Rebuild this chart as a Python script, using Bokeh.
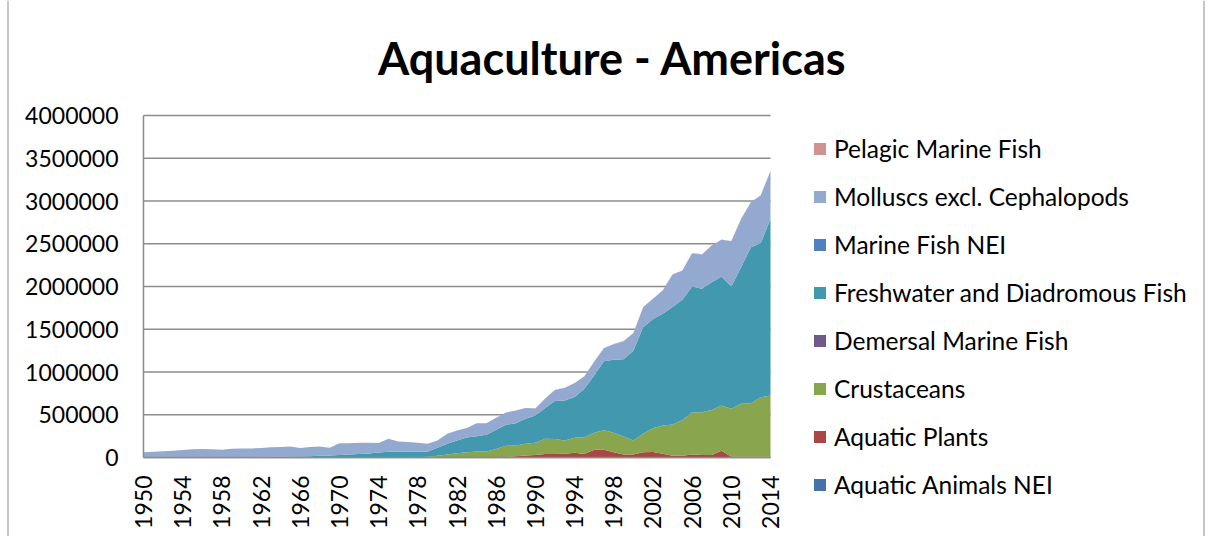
import math
from bokeh.plotting import figure
from bokeh.models import (ColumnDataSource, Range1d, FixedTicker, BasicTickFormatter,
                          Legend, LegendItem, Label, Span)
from bokeh.embed import file_html
from bokeh.resources import INLINE

years = list(range(1950, 2015))

aquatic_animals_nei = [0] * 65

aquatic_plants = ([0] * 37 +
    [5000, 15000, 22000, 30000, 42000, 40000, 43000, 55000, 40000, 92000,
     92000, 60000, 35000, 35000, 60000, 65000, 43000, 20000, 20000, 35000,
     30000, 30000, 80000, 10000, 8000, 8000, 8000, 8000])

crustaceans = ([0] * 28 +
    [3000, 10000, 20000, 35000, 50000, 62000, 70000, 70000, 100000, 132000,
     125000, 138000, 142000, 178000, 175000, 157000, 175000, 198000, 198000, 228000,
     230000, 211000, 165000, 217000, 278000, 331000, 366000, 420000, 495000, 500000,
     527000, 528000, 560000, 620000, 627000, 697000, 717000])

demersal_marine_fish = [0] * 65

freshwater_diadromous = ([0] * 9 +
    [3000, 5000, 7000, 8000, 9000, 10000, 12000, 12000, 16000, 20000,
     23000, 30000, 35000, 40000, 47000, 58000, 66000, 70000, 70000, 63000,
     56000, 93000, 125000, 150000, 173000, 180000, 196000, 224000, 246000, 262000,
     293000, 320000, 358000, 445000, 468000, 477000, 567000, 670000, 805000, 853000,
     904000, 1050000, 1247000, 1277000, 1306000, 1374000, 1404000, 1470000, 1443000, 1493000,
     1509000, 1430000, 1598000, 1825000, 1802000, 2065000])

marine_fish_nei = [0] * 65

molluscs = [62000, 68000, 74000, 80000, 88000, 97000, 100000, 96000, 90000, 99000,
            99000, 99000, 104000, 111000, 114000, 116000, 98000, 108000, 109000, 90000,
            138000, 133000, 132000, 125000, 112000, 154000, 117000, 110000, 106000, 94000,
            87000, 117000, 116000, 110000, 150000, 134000, 141000, 144000, 148000, 127000,
            82000, 112000, 130000, 148000, 163000, 145000, 160000, 155000, 182000, 210000,
            204000, 234000, 236000, 273000, 380000, 342000, 390000, 401000, 430000, 429000,
            530000, 564000, 526000, 557000, 560000]

pelagic_marine_fish = ([0] * 40 +
    [1000, 1000, 1000, 1000, 1000, 1500, 1500, 1500, 2000, 2000,
     2000, 2000, 2000, 2000, 2500, 2500, 2500, 2500, 3000, 3000,
     3000, 3000, 3000, 3000, 3000])

series_names = ["Aquatic Animals NEI", "Aquatic Plants", "Crustaceans", "Demersal Marine Fish",
                "Freshwater and Diadromous Fish", "Marine Fish NEI",
                "Molluscs excl. Cephalopods", "Pelagic Marine Fish"]
series_colors = ["#4572A7", "#AA4643", "#89A54E", "#71588F", "#4198AF", "#4F81BD",
                 "#93A9CF", "#D19392"]
chart_title = "Aquaculture - Americas"
x_ticks = list(range(1950, 2015, 4))
y_ticks = list(range(0, 4000001, 500000))
x_lo, x_hi = 1950, 2014
y_lo, y_hi = 0, 4000000

keys = ["s0", "s1", "s2", "s3", "s4", "s5", "s6", "s7"]
data = dict(year=years)
for k, v in zip(keys, [aquatic_animals_nei, aquatic_plants, crustaceans, demersal_marine_fish,
                       freshwater_diadromous, marine_fish_nei, molluscs, pelagic_marine_fish]):
    data[k] = v
source = ColumnDataSource(data)

FONT = "Lato"
GRID = "#8C8C8C"

# canvas layout (pixels): the frame fills the whole canvas; the plot area
# occupies [PL, PR] x [PT, PB] inside it.
W, H = 1206, 536
PL, PR, PT, PB = 143, 770, 115, 457
sx = (PR - PL) / (x_hi - x_lo)
sy = (PB - PT) / (y_hi - y_lo)
x_range = Range1d(x_lo - PL / sx, x_hi + (W - PR) / sx)
y_range = Range1d(y_lo - (H - PB) / sy, y_hi + PT / sy)

p = figure(width=W, height=H, output_backend="svg", toolbar_location=None,
           x_range=x_range, y_range=y_range,
           min_border_left=0, min_border_right=0, min_border_top=0, min_border_bottom=0)
p.outline_line_color = None
p.background_fill_color = "white"
p.border_fill_color = "white"
p.xgrid.grid_line_color = None
p.ygrid.grid_line_color = None

# horizontal gridlines limited to the plot area
p.segment(x0=[x_lo] * len(y_ticks), y0=y_ticks, x1=[x_hi] * len(y_ticks), y1=y_ticks,
          line_color=GRID, line_width=1.5)

renderers = p.varea_stack(stackers=keys, x="year", color=series_colors, source=source)

for ax in (p.xaxis[0], p.yaxis[0]):
    ax.axis_line_color = GRID
    ax.axis_line_width = 1.5
    ax.major_tick_line_color = None
    ax.minor_tick_line_color = None
    ax.major_tick_out = 0
    ax.major_tick_in = 0
    ax.major_label_text_font = FONT
    ax.major_label_text_font_size = "23px"
    ax.major_label_text_color = "#000000"

p.yaxis.fixed_location = x_lo
p.yaxis.bounds = (y_lo, y_hi)
p.yaxis.ticker = FixedTicker(ticks=y_ticks)
p.yaxis.formatter = BasicTickFormatter(use_scientific=False)
p.yaxis.major_label_standoff = 25

p.xaxis.fixed_location = y_lo
p.xaxis.bounds = (x_lo, x_hi)
p.xaxis.ticker = FixedTicker(ticks=x_ticks)
p.xaxis.major_label_orientation = math.pi / 2
p.xaxis.major_label_standoff = 18

# chart-area border (left and right edges)
for px in (7.5, 1203.5):
    p.add_layout(Span(location=x_range.start + px / sx, dimension="height",
                      line_color="#8C8C8C", line_width=1))

p.add_layout(Label(x=612, y=H - 57, x_units="screen", y_units="screen", text=chart_title,
                   text_align="center", text_baseline="alphabetic", text_font=FONT,
                   text_font_size="45px", text_font_style="bold", text_color="#000000"))

items = [LegendItem(label=series_names[i], renderers=[renderers[i]]) for i in range(7, -1, -1)]
legend = Legend(items=items, location=(812, 37), orientation="vertical",
                label_text_font=FONT, label_text_font_size="24.5px", label_text_color="#000000",
                glyph_width=15, glyph_height=15, label_standoff=7, spacing=19,
                padding=0, margin=0, border_line_color=None, background_fill_alpha=0,
                label_height=28)
p.add_layout(legend, "center")

open("out.html", "w").write(file_html(p, INLINE))
